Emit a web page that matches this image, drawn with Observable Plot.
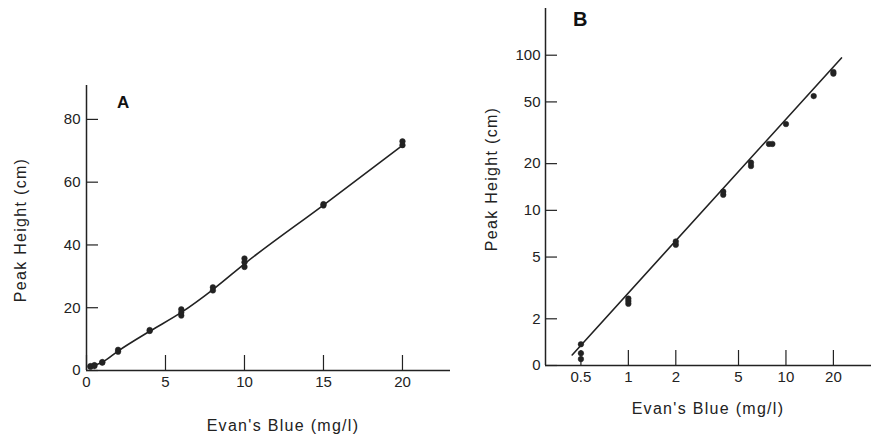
<!DOCTYPE html>
<html>
<head>
<meta charset="utf-8">
<script src="https://cdn.jsdelivr.net/npm/d3@7"></script>
<script src="https://cdn.jsdelivr.net/npm/@observablehq/plot@0.6"></script>
<style>
  html, body { margin: 0; padding: 0; background: #fff; }
  #wrap { position: relative; width: 871px; height: 435px; overflow: hidden; font-family: "Liberation Sans", Arial, sans-serif; color: #222; }
  .panel { position: absolute; top: 0; }
  .title { position: absolute; font-size: 16px; letter-spacing: 1.3px; white-space: nowrap; color: #222; }
  .letter { position: absolute; font-weight: bold; color: #111; }
</style>
</head>
<body>
<div id="wrap"></div>
<script>
// ---- Panel A (linear) ----
const concA   = [0.25, 0.25, 0.5, 0.5, 1, 1, 2, 2, 4, 4, 6, 6, 6, 8, 8, 10, 10, 10, 15, 15, 20, 20];
const heightA = [1.2, 1.4, 1.4, 1.7, 2.5, 2.7, 6.0, 6.6, 12.6, 12.9, 17.5, 18.5, 19.5, 25.5, 26.5, 33, 34.5, 35.7, 52.6, 53.0, 71.8, 73.0];
const lineAx  = [0.25, 1, 2, 4, 6, 8, 10, 15, 20];
const lineAy  = [1.3, 2.6, 6.2, 12.5, 18.5, 25.8, 34, 52.7, 71.7];
const ticksAx = [0, 5, 10, 15, 20];
const ticksAy = [0, 20, 40, 60, 80];

// ---- Panel B (log-log) ----
const concB   = [0.5, 0.5, 0.5, 1, 1, 1, 2, 2, 4, 4, 6, 6, 7.8, 8.2, 10, 15, 20, 20];
const heightB = [1.37, 1.2, 1.1, 2.5, 2.6, 2.7, 6.0, 6.3, 12.6, 13.2, 19.3, 20.3, 26.8, 26.8, 36, 54.5, 76, 78];
const fitBx   = [0.44, 22.5];
const fitBy   = [1.17, 96];
const ticksBx = [0.5, 1, 2, 5, 10, 20];
const ticksBy = [1, 2, 5, 10, 20, 50, 100];
const labelsBy = ["0", "2", "5", "10", "20", "50", "100"];

const xTitle = "Evan's Blue (mg/l)";
const yTitle = "Peak Height (cm)";

const ink = "#222";
const font = "'Liberation Sans', Arial, sans-serif";
const style = { fontFamily: font, fontSize: "15px", color: ink, background: "transparent", overflow: "visible" };

const ptsA = concA.map((c, i) => ({c, h: heightA[i]}));
const lnA = lineAx.map((c, i) => ({c, h: lineAy[i]}));
const ptsB = concB.map((c, i) => ({c, h: heightB[i]}));
const lnB = fitBx.map((c, i) => ({c, h: fitBy[i]}));

const plotA = Plot.plot({
  width: 450, height: 435,
  marginLeft: 86, marginRight: 0, marginTop: 85, marginBottom: 65,
  style,
  x: { domain: [0, 23.04] },
  y: { domain: [0, 90.8] },
  marks: [
    Plot.axisY({ ticks: ticksAy, tickSize: -12, tickPadding: 18, label: null, stroke: ink, strokeWidth: 1.2 }),
    Plot.axisX({ ticks: ticksAx, tickSize: -15, tickPadding: 21, label: null, stroke: ink, strokeWidth: 1.2 }),
    Plot.ruleX([0], { stroke: ink, strokeWidth: 1.5 }),
    Plot.ruleY([0], { stroke: ink, strokeWidth: 1.5 }),
    Plot.line(lnA, { x: "c", y: "h", stroke: ink, strokeWidth: 1.6, curve: "monotone-x" }),
    Plot.dot(ptsA, { x: "c", y: "h", r: 2.8, fill: ink, stroke: ink, strokeWidth: 0.5 })
  ]
});

const plotB = Plot.plot({
  width: 421, height: 435,
  marginLeft: 95, marginRight: 0, marginTop: 8, marginBottom: 70,
  style,
  x: { type: "log", domain: [0.298, 34.9] },
  y: { type: "log", domain: [1.0, 200] },
  marks: [
    Plot.axisY({ ticks: ticksBy, tickFormat: d => labelsBy[ticksBy.indexOf(d)], tickSize: -12, tickPadding: 17, label: null, stroke: ink, strokeWidth: 1.2 }),
    Plot.axisX({ ticks: ticksBx, tickFormat: d => String(d), tickSize: -15, tickPadding: 21, label: null, stroke: ink, strokeWidth: 1.2 }),
    Plot.ruleX([0.298], { stroke: ink, strokeWidth: 1.5 }),
    Plot.ruleY([1.0], { stroke: ink, strokeWidth: 1.5 }),
    Plot.line(lnB, { x: "c", y: "h", stroke: ink, strokeWidth: 1.6 }),
    Plot.dot(ptsB, { x: "c", y: "h", r: 2.8, fill: ink, stroke: ink, strokeWidth: 0.5 })
  ]
});

const wrap = document.getElementById("wrap");
function place(el, left) { el.classList.add("panel"); el.style.left = left + "px"; wrap.appendChild(el); }
place(plotA, 0);
place(plotB, 450);

function addText(txt, cls, css) {
  const d = document.createElement("div");
  d.className = cls; d.textContent = txt;
  Object.assign(d.style, css);
  wrap.appendChild(d);
  return d;
}
// axis titles
addText(xTitle, "title", { left: "283px", top: "426px", transform: "translate(-50%,-50%)" });
addText(xTitle, "title", { left: "708px", top: "409px", transform: "translate(-50%,-50%)" });
addText(yTitle, "title", { left: "21px", top: "230px", transform: "translate(-50%,-50%) rotate(-90deg)" });
addText(yTitle, "title", { left: "492px", top: "179px", transform: "translate(-50%,-50%) rotate(-90deg)" });
// panel letters
addText("A", "letter", { left: "117px", top: "93px", fontSize: "17px" });
addText("B", "letter", { left: "573px", top: "8px", fontSize: "20px" });
</script>
</body>
</html>
